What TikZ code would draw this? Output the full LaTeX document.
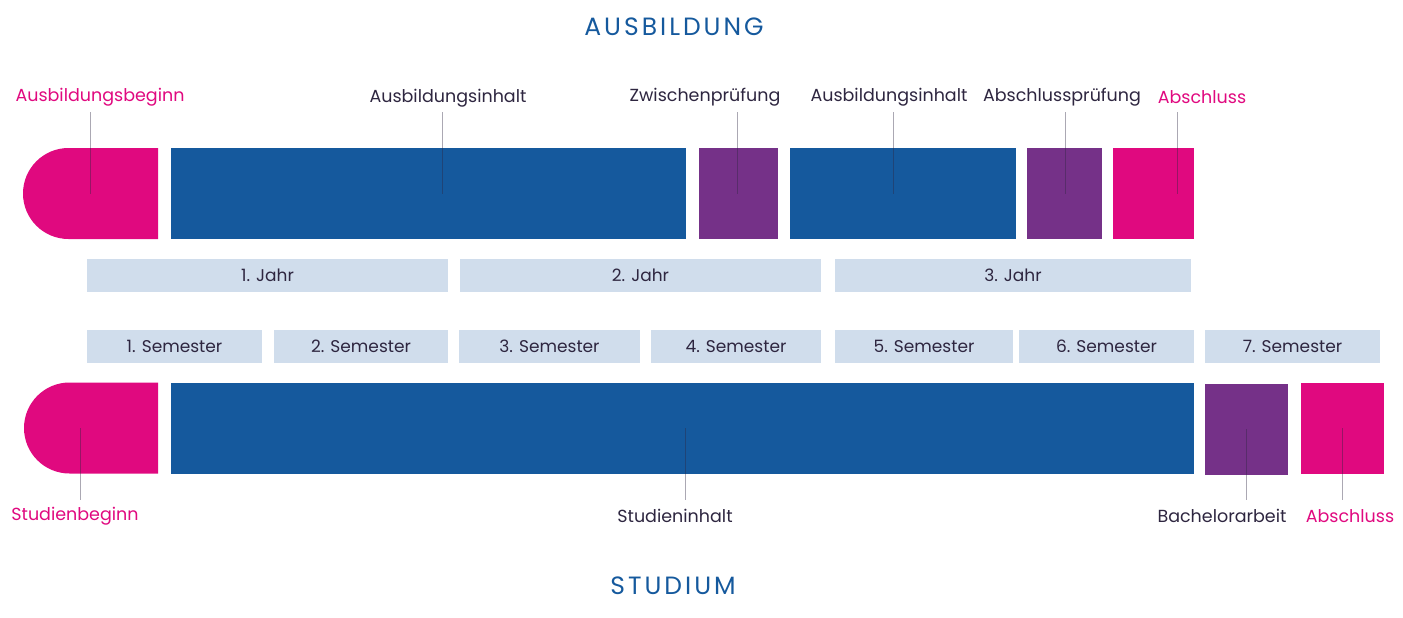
\documentclass[tikz,border=0pt]{standalone}
\usepackage{fontspec}
\setmainfont{Poppins}
\usetikzlibrary{shapes.misc, positioning}
\definecolor{abblue}{HTML}{15599D}
\definecolor{abpurple}{HTML}{753188}
\definecolor{abpink}{HTML}{E0097F}
\definecolor{ablight}{HTML}{D0DDEC}
\definecolor{abtext}{HTML}{2E2640}

\begin{document}
\begin{tikzpicture}[
  x=1pt, y=-1pt,
  block/.style={
    rectangle,
    fill=#1,
    inner sep=0pt,
    minimum height=91pt
  },
  startblock/.style={
    rounded rectangle,
    rounded rectangle right arc=none,
    fill=abpink,
    inner sep=0pt,
    minimum height=91pt,
    minimum width=135pt
  },
  period/.style={
    rectangle,
    fill=ablight,
    inner sep=0pt,
    minimum height=33pt,
    font=\fontsize{17}{20}\selectfont,
    text=abtext
  },
  tag/.style={
    font=\fontsize{17.5}{21}\selectfont,
    text=#1
  },
  heading/.style={
    font=\fontsize{25}{30}\selectfont\addfontfeatures{LetterSpace=12},
    text=abblue
  },
  leader/.style={
    draw=abtext,
    draw opacity=0.4,
    line width=0.9pt
  }
]
  \useasboundingbox (0,0) rectangle (1403,618);

  \node[heading] (ausb) at (674,27) {AUSBILDUNG};
  \node[heading] (stud) at (673,586) {STUDIUM};

  % Ausbildung
  \node[startblock] (abeg) at (90.5,193.5) {};
  \node[block=abblue, minimum width=515pt] (ainh1) at (428.5,193.5) {};
  \node[block=abpurple, minimum width=79pt] (zwpr) at (738.5,193.5) {};
  \node[block=abblue, minimum width=226pt] (ainh2) at (903,193.5) {};
  \node[block=abpurple, minimum width=75pt] (abpr) at (1064.5,193.5) {};
  \node[block=abpink, minimum width=81pt] (aabs) at (1153.5,193.5) {};

  \node[tag=abpink] (t-abeg) at (100,97) {Ausbildungsbeginn};
  \node[tag=abtext] (t-ainh1) at (448,98) {Ausbildungsinhalt};
  \node[tag=abtext] (t-zwpr) at (705,97) {Zwischenprüfung};
  \node[tag=abtext] (t-ainh2) at (889,97) {Ausbildungsinhalt};
  \node[tag=abtext] (t-abpr) at (1062,97) {Abschlussprüfung};
  \node[tag=abpink] (t-aabs) at (1202,97) {Abschluss};

  \coordinate (l-abeg) at (90,112);
  \coordinate (l-ainh1) at (442,112);
  \coordinate (l-zwpr) at (737,112);
  \coordinate (l-ainh2) at (893,112);
  \coordinate (l-abpr) at (1065,112);
  \coordinate (l-aabs) at (1177,112);
  \draw[leader] (l-abeg) -- (l-abeg |- abeg.center);
  \draw[leader] (l-ainh1) -- (l-ainh1 |- ainh1.center);
  \draw[leader] (l-zwpr) -- (l-zwpr |- zwpr.center);
  \draw[leader] (l-ainh2) -- (l-ainh2 |- ainh2.center);
  \draw[leader] (l-abpr) -- (l-abpr |- abpr.center);
  \draw[leader] (l-aabs) -- (l-aabs |- aabs.center);

  % Jahre und Semester
  \node[period, minimum width=361pt] (j1) at (267.5,275.5) {1. Jahr};
  \node[period, minimum width=361pt] (j2) at (640.5,275.5) {2. Jahr};
  \node[period, minimum width=356pt] (j3) at (1013,275.5) {3. Jahr};

  \node[period, minimum width=175pt] (s1) at (174.5,346.5) {1. Semester};
  \node[period, minimum width=174pt] (s2) at (361,346.5) {2. Semester};
  \node[period, minimum width=181pt] (s3) at (549.5,346.5) {3. Semester};
  \node[period, minimum width=170pt] (s4) at (736,346.5) {4. Semester};
  \node[period, minimum width=178pt] (s5) at (924,346.5) {5. Semester};
  \node[period, minimum width=175pt] (s6) at (1106.5,346.5) {6. Semester};
  \node[period, minimum width=175pt] (s7) at (1292.5,346.5) {7. Semester};

  % Studium
  \node[startblock, minimum width=134pt] (sbeg) at (91,428) {};
  \node[block=abblue, minimum width=1023pt] (sinh) at (682.5,428) {};
  \node[block=abpurple, minimum width=83pt] (bach) at (1246.5,429) {};
  \node[block=abpink, minimum width=83pt] (sabs) at (1342.5,428) {};

  \node[tag=abpink] (t-sbeg) at (75,516) {Studienbeginn};
  \node[tag=abtext] (t-sinh) at (675,516) {Studieninhalt};
  \node[tag=abtext] (t-bach) at (1222,516) {Bachelorarbeit};
  \node[tag=abpink] (t-sabs) at (1350,516) {Abschluss};

  \coordinate (l-sbeg) at (80,500);
  \coordinate (l-sinh) at (685,500);
  \coordinate (l-bach) at (1246,500);
  \coordinate (l-sabs) at (1342,500);
  \draw[leader] (l-sbeg |- sbeg.center) -- (l-sbeg);
  \draw[leader] (l-sinh |- sinh.center) -- (l-sinh);
  \draw[leader] (l-bach |- bach.center) -- (l-bach);
  \draw[leader] (l-sabs |- sabs.center) -- (l-sabs);
\end{tikzpicture}
\end{document}
